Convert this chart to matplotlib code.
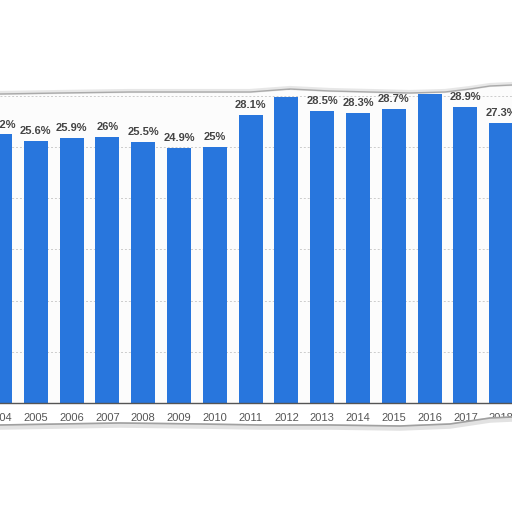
import matplotlib
matplotlib.use("Agg")
import matplotlib.pyplot as plt
import numpy as np

# share of ... per year (statista style cut-out)
years = ['2004', '2005', '2006', '2007', '2008', '2009', '2010', '2011',
         '2012', '2013', '2014', '2015', '2016', '2017', '2018']
values = [26.2, 25.6, 25.9, 26, 25.5, 24.9, 25, 28.1,
          29.9, 28.5, 28.3, 28.7, 30.1, 28.9, 27.3]
labels = ['26.2%', '25.6%', '25.9%', '26%', '25.5%', '24.9%', '25%', '28.1%',
          '29.9%', '28.5%', '28.3%', '28.7%', '30.1%', '28.9%', '27.3%']

# torn paper edges (pixel coords, decoration only)
top_edge_x = [0, 60, 130, 200, 250, 290, 330, 370, 410, 445, 470, 490, 512]
top_edge_y = [94, 93, 92, 92, 92, 89, 91, 92, 93, 92, 89, 86, 85]
bot_edge_x = [0, 60, 120, 200, 260, 330, 400, 450, 470, 490, 512]
bot_edge_y = [425, 424, 423, 424, 425, 425, 426, 424, 421, 418, 417]

plt.rcParams['font.family'] = ['Liberation Sans', 'DejaVu Sans']

fig = plt.figure(figsize=(5.12, 5.12), dpi=100)
fig.patch.set_facecolor('white')

# main chart: baseline at y=403px, 10.25 px per percent, bar pitch 36.2 px
ax = fig.add_axes([0, 1 - 403 / 512, 1, (403 - 84) / 512])
ax.set_facecolor('#fcfcfc')
x = np.arange(len(years))
ax.bar(x, values, width=0.67, color='#2876dd', zorder=3)
for xi, v, lab in zip(x, values, labels):
    ax.annotate(lab, (xi, v), xytext=(0, 5), textcoords='offset points',
                ha='center', va='baseline', fontsize=8, fontweight='bold',
                color='#444444', zorder=4)

ax.set_xlim(5.7 / 36.2, 517.7 / 36.2)
ax.set_ylim(0, (403 - 84) / 10.25)
ax.set_yticks([0, 5, 10, 15, 20, 25, 30])
ax.yaxis.grid(True, linestyle=(0, (2, 2)), color='#cccccc', linewidth=0.7, zorder=0)
ax.set_xticks(x)
ax.set_xticklabels(years)
ax.tick_params(axis='x', length=0, pad=7, labelsize=8, labelcolor='#555555')
ax.tick_params(axis='y', length=0, labelleft=False)
for s in ['top', 'left', 'right']:
    ax.spines[s].set_visible(False)
ax.spines['bottom'].set_color('#555555')
ax.spines['bottom'].set_linewidth(1.0)
ax.spines['bottom'].set_zorder(5)

# overlay for the torn paper look
ov = fig.add_axes([0, 0, 1, 1], zorder=10)
ov.set_xlim(0, 512)
ov.set_ylim(512, 0)
ov.axis('off')
ov.patch.set_alpha(0)
ov.fill_between(top_edge_x, 0, top_edge_y, color='white', lw=0)
ov.fill_between(bot_edge_x, bot_edge_y, 512, color='white', lw=0)
ov.plot(top_edge_x, np.array(top_edge_y) - 1, color='#d8d8d8', lw=3, alpha=0.6)
ov.plot(top_edge_x, top_edge_y, color='#aaaaaa', lw=1)
ov.plot(bot_edge_x, np.array(bot_edge_y) + 2, color='#cfcfcf', lw=4, alpha=0.6)
ov.plot(bot_edge_x, bot_edge_y, color='#a0a0a0', lw=1.2)

plt.savefig('out.png', dpi=100)
